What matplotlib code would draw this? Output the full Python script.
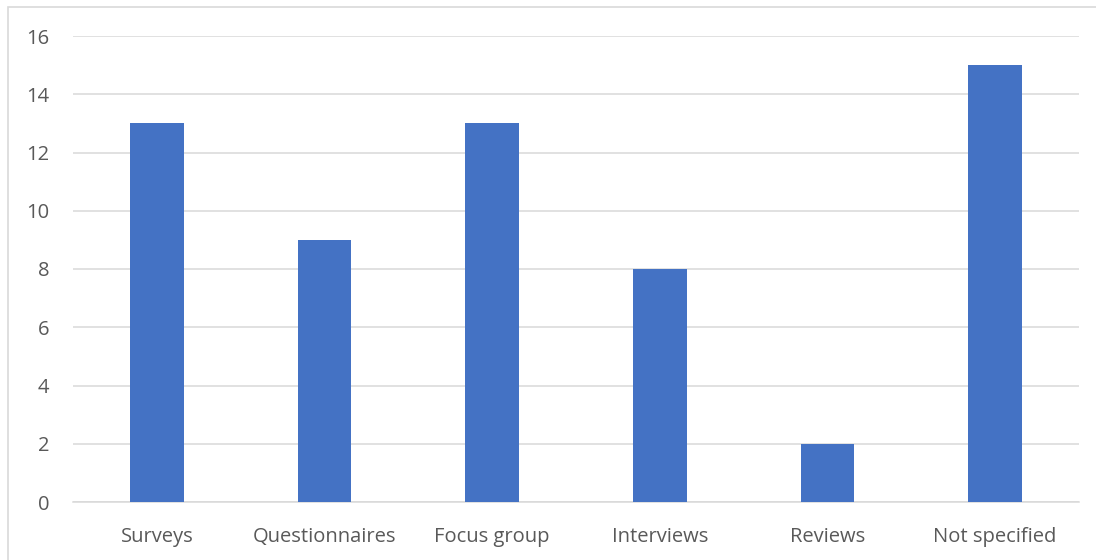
import matplotlib
matplotlib.use("Agg")
import matplotlib.pyplot as plt
from matplotlib.patches import Rectangle

plt.rcParams["font.family"] = ["Open Sans", "DejaVu Sans"]

categories = ["Surveys", "Questionnaires", "Focus group", "Interviews", "Reviews", "Not specified"]
counts = [13, 9, 13, 8, 2, 15]
y_ticks = [0, 2, 4, 6, 8, 10, 12, 14, 16]

BAR_COLOR = "#4472C4"
GRID_COLOR = "#D9D9D9"
TEXT_COLOR = "#595959"

fig = plt.figure(figsize=(10.96, 5.6), dpi=100)
ax = fig.add_axes([73 / 1096, 1 - 502 / 560, 1006 / 1096, 466 / 560])

# chart area outline, running off the right and bottom edges
fig.patches.append(
    Rectangle((8 / 1096, -0.1), 1.2, 1 - 7 / 560 + 0.1, transform=fig.transFigure,
              fill=False, edgecolor=GRID_COLOR, linewidth=1.2, zorder=0)
)

x = range(len(categories))
ax.bar(x, counts, width=0.32, color=BAR_COLOR, zorder=3)

ax.set_xlim(-0.5, len(categories) - 0.5)
ax.set_ylim(0, 16)
ax.set_yticks(y_ticks)
ax.set_xticks(list(x))
ax.set_xticklabels(categories)
ax.yaxis.grid(True, color=GRID_COLOR, linewidth=1.1, zorder=0)
ax.set_axisbelow(True)

for side in ["top", "right", "left"]:
    ax.spines[side].set_visible(False)
ax.spines["bottom"].set_color(GRID_COLOR)
ax.spines["bottom"].set_linewidth(1.1)

ax.tick_params(axis="both", length=0, labelsize=14.5, labelcolor=TEXT_COLOR)
ax.tick_params(axis="y", pad=17)
ax.tick_params(axis="x", pad=18)

fig.savefig("out.png", dpi=100)
